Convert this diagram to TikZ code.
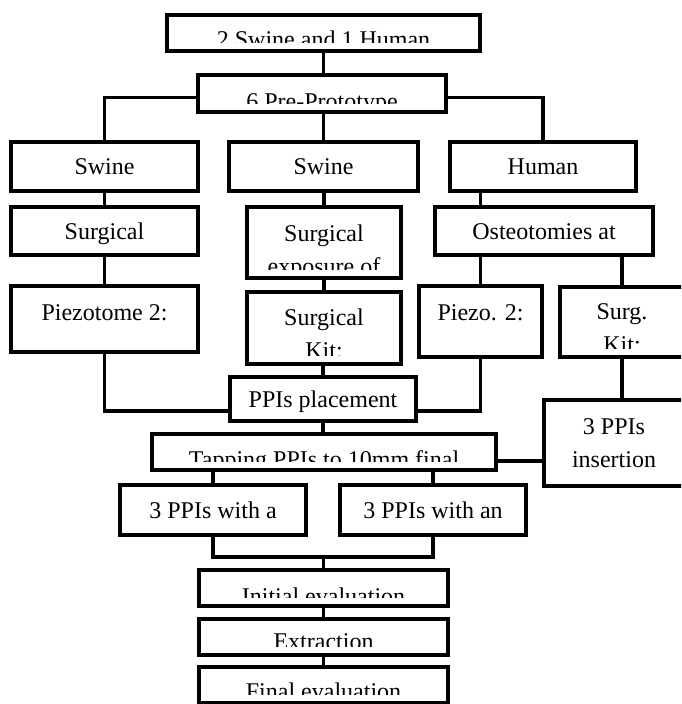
\documentclass[tikz,border=0pt]{standalone}
\usepackage{fontspec}
\setmainfont{Liberation Serif}
\tikzset{
  box/.style 2 args={draw, line width=4pt, minimum width=#1, minimum height=#2,
    inner sep=0pt, text height=16pt, text depth=0pt, align=center},
  cut/.style 2 args={path picture={
    \clip ([yshift=9pt]path picture bounding box.south west) rectangle (path picture bounding box.north east);
    \node[draw=none, anchor=north, align=center, inner sep=0pt, minimum width=0pt, minimum height=0pt,
      text height={}, text depth={}]
      at ([yshift=-#1pt]path picture bounding box.north) {#2};}},
  link/.style={line width=3.5pt}
}
\begin{document}
\begin{tikzpicture}[x=1pt, y=-1pt, font=\fontsize{24}{33}\selectfont]
    \useasboundingbox (0,0) rectangle (681,704);
    \clip (0,0) rectangle (681,704);

    % Top
    \node[box={313pt}{36pt}, cut={14}{2 Swine and 1 Human}] (top) at (323.5,33) {};
    \node[box={248pt}{37pt}, cut={17}{6 Pre-Prototype}] (pre) at (322,93.5) {};

    % Models
    \node[box={187pt}{49pt}] (swa) at (104.5,166.5) {Swine};
    \node[box={189pt}{49pt}] (swb) at (323.5,166.5) {Swine};
    \node[box={186pt}{49pt}] (hum) at (543,166.5) {Human};

    % Approach
    \node[box={187pt}{48pt}] (sura) at (104.5,231) {Surgical};
    \node[box={154pt}{71pt}, cut={16}{Surgical\\exposure of}] (sexp) at (324,242.5) {};
    \node[box={218pt}{48pt}] (ost) at (544,231) {Osteotomies at};

    % Tools
    \node[box={187pt}{66pt}, cut={17}{Piezotome 2:}] (pza) at (104.5,319) {};
    \node[box={154pt}{72pt}, cut={15}{Surgical\\Kit:}] (kita) at (324,328) {};
    \node[box={123pt}{71pt}, cut={17}{Piezo. 2:}] (pzb) at (480.5,321.5) {};
    \node[box={124pt}{70pt}, cut={15}{Surg.\\Kit:}] (kitb) at (622,322) {};

    % Placement
    \node[box={186pt}{44pt}] (ppi) at (323,399) {PPIs placement};
    \node[box={344pt}{36pt}, cut={15}{Tapping PPIs to 10mm final}] (tap) at (324,452) {};
    \node[box={140pt}{86pt}, text height=49pt] (ins) at (614,443) {3 PPIs\\insertion};
    \node[box={186pt}{50pt}] (wa) at (213,510) {3 PPIs with a};
    \node[box={186pt}{50pt}] (wb) at (433,510) {3 PPIs with an};

    % Evaluation
    \coordinate (join) at (323.5,557);
    \node[box={249pt}{36pt}, cut={16}{Initial evaluation}] (ini) at (323.5,588) {};
    \node[box={249pt}{36pt}, cut={13}{Extraction}] (ext) at (323.5,637) {};
    \node[box={249pt}{36pt}, cut={14}{Final evaluation}] (fin) at (323.5,685) {};

    % Links
    \draw[link] (top.south) -- (top.south |- pre.north);
    \draw[link] ([yshift=-4pt]pre.west) -| (swa.north);
    \draw[link] ([yshift=-4pt]pre.east) -| (hum.north);
    \draw[link] (swb.north |- pre.south) -- (swb.north);
    \draw[link] (swa.south) -- (sura.north);
    \draw[link] (sexp.north |- swb.south) -- (sexp.north);
    \draw[link] (pzb.north |- hum.south) -- (pzb.north |- ost.north);
    \draw[link] (pzb.north |- ost.south) -- (pzb.north);
    \draw[link] (kitb.north |- ost.south) -- (kitb.north);
    \draw[link] (sura.south) -- (pza.north);
    \draw[link] (sexp.south) -- (kita.north);
    \draw[link] (pza.south) |- ([yshift=-12pt]ppi.west);
    \draw[link] (pzb.south) |- ([yshift=-12pt]ppi.east);
    \draw[link] (ppi.north |- kita.south) -- (ppi.north);
    \draw[link] (kitb.south) -- (kitb.south |- ins.north);
    \draw[link] (ppi.south) -- (ppi.south |- tap.north);
    \draw[link] ([yshift=-9pt]tap.east) -- ([yshift=-9pt]tap.east -| ins.west);
    \draw[link] (wa.north |- tap.south) -- (wa.north);
    \draw[link] (wb.north |- tap.south) -- (wb.north);
    \draw[link] (wa.south) |- (join) -| (wb.south);
    \draw[link] (join) -- (ini.north);
    \draw[link] (ini.south) -- (ext.north);
    \draw[link] (ext.south) -- (fin.north);
\end{tikzpicture}
\end{document}
